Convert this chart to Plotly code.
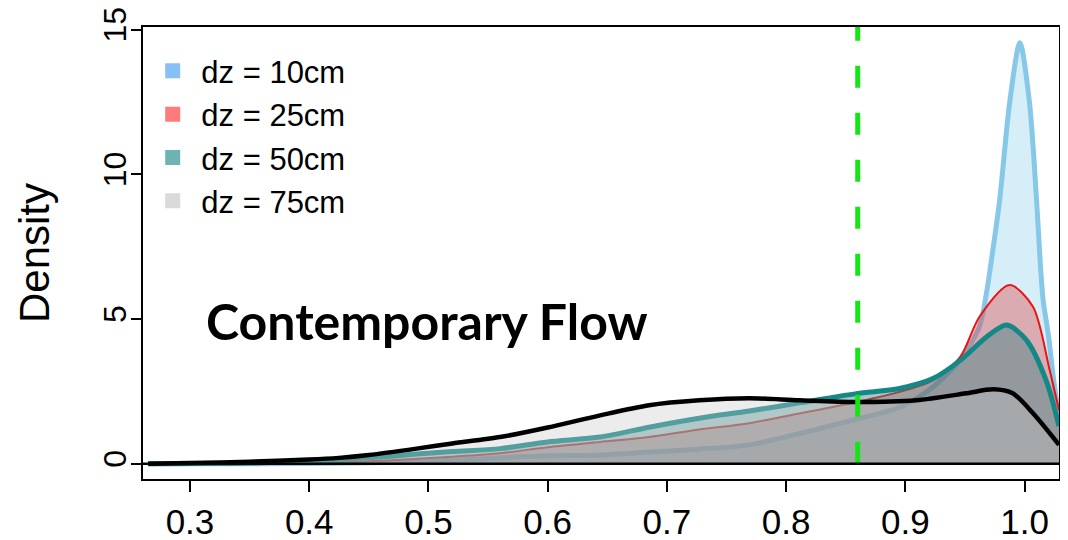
import plotly.graph_objects as go

# ---- data ----
x_dz10 = [0.265, 0.35, 0.45, 0.52, 0.56, 0.60, 0.644, 0.685, 0.727, 0.769, 0.811, 0.862, 0.896,
          0.923, 0.946, 0.962, 0.968, 0.972, 0.979, 0.9875, 0.996, 1.004, 1.010, 1.013, 1.0155,
          1.0197, 1.024, 1.0288]
y_dz10 = [0.0, 0.0, 0.03, 0.12, 0.2, 0.27, 0.3, 0.4, 0.5, 0.65, 1.04, 1.57, 1.96,
          2.65, 3.6, 4.73, 5.9, 7.0, 9.1, 12.5, 14.55, 12.5, 9.1, 7.0, 5.65,
          4.5, 3.0, 1.6]

x_dz25 = [0.265, 0.35, 0.42, 0.47, 0.52, 0.56, 0.60, 0.644, 0.685, 0.727, 0.769, 0.811, 0.859,
          0.895, 0.923, 0.946, 0.962, 0.9875, 1.007, 1.021, 1.0288]
y_dz25 = [0.0, 0.0, 0.04, 0.12, 0.24, 0.36, 0.57, 0.75, 0.92, 1.18, 1.4, 1.73, 2.13,
          2.48, 2.88, 3.69, 5.07, 6.17, 5.42, 3.23, 1.85]

x_dz50 = [0.265, 0.35, 0.40, 0.45, 0.49, 0.52, 0.56, 0.60, 0.644, 0.685, 0.727, 0.769, 0.811,
          0.859, 0.895, 0.923, 0.946, 0.968, 0.985, 1.0015, 1.018, 1.0288]
y_dz50 = [0.0, 0.02, 0.08, 0.2, 0.33, 0.42, 0.52, 0.75, 0.92, 1.26, 1.57, 1.82, 2.1,
          2.42, 2.6, 2.94, 3.57, 4.38, 4.79, 4.27, 2.88, 1.3]

x_dz75 = [0.265, 0.30, 0.35, 0.40, 0.425, 0.45, 0.49, 0.52, 0.56, 0.60, 0.644, 0.685, 0.727,
          0.769, 0.811, 0.859, 0.909, 0.951, 0.9735, 0.990, 1.007, 1.0288]
y_dz75 = [0.0, 0.02, 0.07, 0.14, 0.2, 0.3, 0.52, 0.7, 0.92, 1.25, 1.67, 2.02, 2.19,
          2.26, 2.19, 2.13, 2.19, 2.43, 2.57, 2.43, 1.74, 0.65]

series_names = ["dz = 10cm", "dz = 25cm", "dz = 50cm", "dz = 75cm"]
threshold_x = 0.86
x_ticks = [0.3, 0.4, 0.5, 0.6, 0.7, 0.8, 0.9, 1.0]
x_tick_labels = ["0.3", "0.4", "0.5", "0.6", "0.7", "0.8", "0.9", "1.0"]
y_ticks = [0, 5, 10, 15]
annotation_text = "Contemporary Flow"

# ---- styles ----
line_colors = ["rgb(135,200,232)", "rgb(235,20,20)", "rgb(20,135,135)", "rgb(0,0,0)"]
line_widths = [5, 2, 5, 4.5]
fill_colors = ["rgba(135,206,235,0.35)", "rgba(230,50,50,0.35)",
               "rgba(60,130,130,0.45)", "rgba(200,200,200,0.35)"]
legend_colors = ["rgb(135,192,245)", "rgb(255,122,122)", "rgb(108,180,180)", "rgb(218,218,218)"]

fig = go.Figure()
xs = [x_dz10, x_dz25, x_dz50, x_dz75]
ys = [y_dz10, y_dz25, y_dz50, y_dz75]
for i in range(4):
    fig.add_trace(go.Scatter(
        x=xs[i], y=ys[i], mode="lines", fill="tozeroy",
        fillcolor=fill_colors[i],
        line=dict(color=line_colors[i], width=line_widths[i], shape="spline", smoothing=0.8),
        showlegend=False, hoverinfo="skip"))

# threshold line
fig.add_trace(go.Scatter(
    x=[threshold_x, threshold_x], y=[0, 15.09], mode="lines",
    line=dict(color="rgb(20,230,20)", width=5, dash="22px,25px"),
    showlegend=False, hoverinfo="skip"))

# legend entries
for i in range(4):
    fig.add_trace(go.Scatter(
        x=[None], y=[None], mode="markers", name=" " + series_names[i],
        marker=dict(symbol="square", size=15, color=legend_colors[i]),
        legendgroup=series_names[i]))

fig.add_shape(type="line", xref="paper", x0=0, x1=1, yref="y", y0=0, y1=0,
              line=dict(color="black", width=2.5), layer="above")

fig.add_annotation(x=0.3115, y=4.92, xref="x", yref="y", text="<b>" + annotation_text + "</b>",
                   showarrow=False, xanchor="left", yanchor="middle",
                   font=dict(family="Lato", size=50, color="black"))

# the page body adds an 8px margin, so the figure is 8px smaller and margins shifted
fig.update_layout(
    width=1060, height=532,
    margin=dict(l=135, r=9, t=19, b=61, autoexpand=False),
    paper_bgcolor="white", plot_bgcolor="white",
    font=dict(family="Liberation Sans", color="black"),
    showlegend=True,
    legend=dict(x=0.0106, y=0.962, xanchor="left", yanchor="top",
                bgcolor="rgba(0,0,0,0)", borderwidth=0,
                font=dict(size=31, family="Liberation Sans"),
                tracegroupgap=0, traceorder="normal"),
    xaxis=dict(range=[0.2606, 1.0288], tickvals=x_ticks, ticktext=x_tick_labels,
               showgrid=False, zeroline=False, showline=True, mirror=True, automargin=False,
               linecolor="black", linewidth=2, ticks="outside", ticklen=11, tickwidth=2,
               tickcolor="black", tickfont=dict(size=35), ticklabelstandoff=0,
               ticklabeloverflow="allow"),
    yaxis=dict(range=[-0.53, 15.09], tickvals=y_ticks, automargin=False,
               showgrid=False, zeroline=False, showline=True, mirror=True,
               linecolor="black", linewidth=2, ticks="outside", ticklen=10, tickwidth=2,
               tickcolor="black", tickfont=dict(size=32), tickangle=-90,
               ticklabeloverflow="allow", ticklabelstandoff=-8,
               title=dict(text="Density", font=dict(size=42), standoff=35)),
)

fig.write_html("out.html")
